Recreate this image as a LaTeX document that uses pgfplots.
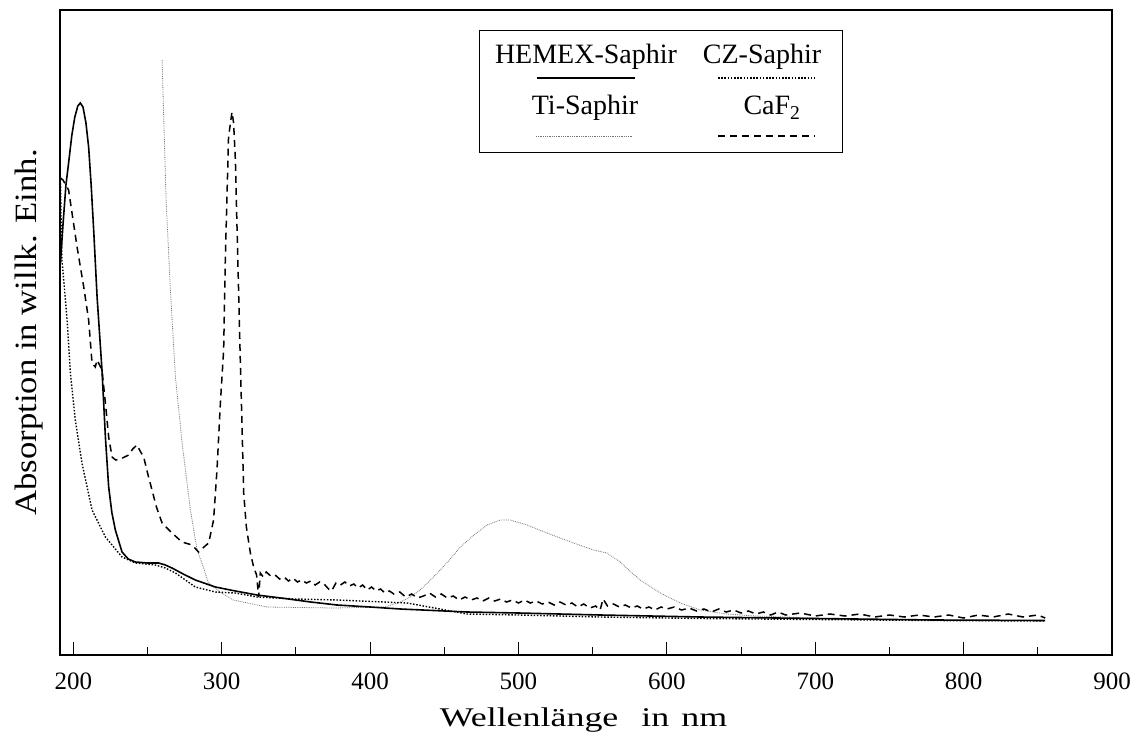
\documentclass[border=0pt]{standalone}
\usepackage{pgfplots}
\pgfplotsset{compat=1.18}
\usepackage{graphicx}
\usepackage{fontspec}
\setmainfont{Liberation Serif}

% Absorption spectra, arbitrary units (wavelength in nm)
\pgfplotstableread{
x y
191.3 392
193 430
195 470
196.8 492
199 520
201 538
203 549
204.7 552
206.5 548
208.5 532
210.3 508
212 470
213.7 425
216 358
219.3 285
221.6 218
223.8 168
226 142
228.3 125
232.8 103
237 96
241.8 93
250 92
257.5 92
262 90
266.5 87
274 81
282.2 75
295.7 68
309.2 64
323.8 60
340 57
360 53
377.7 50
400 48
420.4 46
465.3 43
500 42
555.1 40
622.5 38
700 36.5
780 35
855 34.5
}\hemex

\pgfplotstableread{
x y
191.3 475
191.8 430
192.3 395
193.5 375
195.8 335
198 282
201.3 235
205.8 192
212.6 145
221.6 118
232.8 98
241.8 92
255.3 90
262 87
268.8 82
282.2 68
295.7 63
309.2 62
323.8 58
350 56
377.7 55
425 52
465.3 41
500 40
555.1 38
622.5 36.5
700 35.5
780 34.5
855 34
}\czsaphir

\pgfplotstableread{
x y
259.8 595
260.9 538
262.5 455
265.4 365
268.8 278
273.3 212
278.9 145
283.4 105
287.6 88
291 72
300 62
307.8 55
330.5 48
375.4 47
410 48
420.4 53
427 58
433.8 65
440 74
447.3 85
454 96
460.8 108
470 120
478.8 130
487.7 135
494.5 135
505.7 130
519.2 122
537.1 112
550.6 105
559.6 102
568.6 93
575 84
582.1 75
595.6 62
609 52
622.5 45
640 41
660 39
700 37
}\tisaphir

\pgfplotstableread{
x y
191.3 477
193 475
196.8 465
199.1 442
202.5 408
207 368
210.3 335
212.6 292
214.8 288
216 295
217 292
219.3 285
221.6 252
223.8 218
226.1 198
228.5 195
231.7 196
237.3 200
240 206
242.9 210
245 204
247.4 198
250 182
253 165
256 148
259.8 132
266.5 122
273.2 113
280 110
284.4 103
288 108
291.2 112
294.5 135
296.8 185
299.1 252
301.3 305
302.4 395
303.6 462
304.6 518
306.9 543
308 532
309.2 495
310.3 428
311.4 362
312.5 295
313.7 228
314.8 162
316.6 128
319.3 102
321.5 88
323.5 80
324.9 58
326 82
328 78
330 83
333 79
336 80
339 76
342 78
345 74
348 77
351 73
354 75
357 72
360 74
363 70
366 73
369 71
372 66
374 64
377 72
380 70
383 73
386 69
389 71
392 67
395 70
398 65
401 68
404 64
407 66
410 62
413 64
416 61
420 63
424 58
428 61
432 57
436 59
440 62
444 58
448 61
452 57
456 59
460 55
464 58
468 55
472 57
476 54
480 57
484 54
488 56
492 53
496 55
500 52
504 55
508 52
512 54
516 51
520 53
524 50
528 53
532 50
536 52
540 48
544 51
548 47
552 49
555 45
557 56
560 49
564 51
568 48
572 50
576 47
580 49
584 46
588 48
592 45
596 48
600 46
605 48
610 45
615 47
620 44
625 46
630 43
635 46
640 43
645 45
650 42
655 44
660 41
665 43
670 40
675 43
680 40
690 42
700 39
710 41
720 39
730 41
740 38
750 40
760 38
770 40
780 38
790 40
800 37
810 40
820 38
830 41
840 38
850 40
855 37
}\caf

\tikzset{
  hemexline/.style={line width=1.6pt, black},
  czline/.style={line width=1.4pt, black, dash pattern=on 1.5pt off 1.7pt},
  tiline/.style={line width=0.8pt, black!55, dash pattern=on 0.8pt off 1.0pt},
  cafline/.style={line width=1.5pt, black, dash pattern=on 7pt off 5pt},
}

\begin{document}
\begin{tikzpicture}
\begin{axis}[
  scale only axis,
  width=1052pt, height=645pt,
  xmin=191, xmax=900, ymin=0, ymax=645,
  axis line style={line width=1.3pt},
  xtick={200,300,...,900},
  minor xtick={250,350,...,850},
  ytick=\empty,
  xtick pos=left,
  tick align=inside,
  major tick length=13pt,
  minor tick length=8pt,
  every tick/.style={line width=1.1pt, black},
  every minor tick/.style={line width=1.1pt, black},
  /pgf/number format/assume math mode=true,
  xticklabel style={font=\fontsize{25}{30}\selectfont, anchor=base, yshift=-34pt},
  xlabel={\scalebox{1.33}[1]{Wellenlänge}\hspace{23pt}\scalebox{1.33}[1]{in}\hspace{12pt}\scalebox{1.33}[1]{nm}},
  every axis x label/.style={at={(rel axis cs:0.5,0)}, xshift=-2.5pt, yshift=-71pt, anchor=base, font=\fontsize{27}{32}\selectfont},
  ylabel={\scalebox{1.12}[1]{Absorption in willk. Einh.}},
  every axis y label/.style={at={(rel axis cs:0,0.5)}, xshift=-23pt, rotate=90, anchor=base, font=\fontsize{31}{37}\selectfont},
]
\addplot[tiline] table {\tisaphir};
\addplot[czline] table {\czsaphir};
\addplot[cafline] table {\caf};
\addplot[hemexline] table {\hemex};
\end{axis}

% legend box: names above their line samples
\begin{scope}[shift={(current axis.north west)}, every node/.style={font=\fontsize{28}{34}\selectfont, anchor=base, inner sep=0pt}]
  \draw[line width=1pt] (419pt,-21pt) rectangle (782pt,-143pt);
  \node at (526pt,-54pt) {HEMEX-Saphir};
  \draw[hemexline] (477pt,-68pt) -- (575pt,-68pt);
  \node at (702pt,-54pt) {CZ-Saphir};
  \draw[czline] (658pt,-68pt) -- (755pt,-68pt);
  \node at (525pt,-105pt) {Ti-Saphir};
  \draw[tiline] (476pt,-126pt) -- (572pt,-126pt);
  \node at (712pt,-105pt) {CaF\textsubscript{2}};
  \draw[cafline] (658pt,-126pt) -- (755pt,-126pt);
\end{scope}

\pgfresetboundingbox
\path ([shift={(-60pt,-81pt)}]current axis.south west) rectangle ([shift={(26pt,10pt)}]current axis.north east);
\end{tikzpicture}
\end{document}
